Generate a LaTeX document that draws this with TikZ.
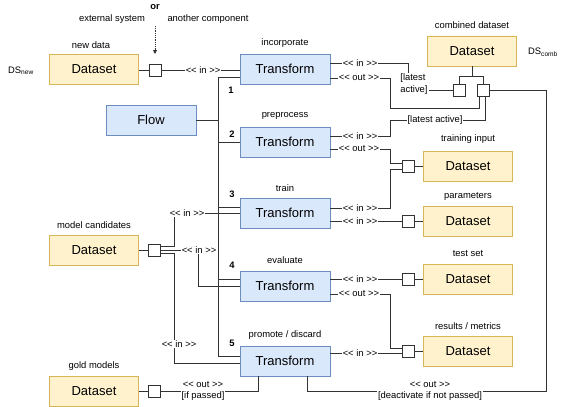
\documentclass[tikz,border=0pt]{standalone}
\usepackage{fontspec}
\setmainfont{Liberation Sans}
\usetikzlibrary{arrows.meta}
\definecolor{tfill}{HTML}{DAE8FC}
\definecolor{tstroke}{HTML}{6C8EBF}
\definecolor{dfill}{HTML}{FFF2CC}
\definecolor{dstroke}{HTML}{D6B656}
\definecolor{lc}{HTML}{333333}
\newcommand\LL{\mbox{<}\mbox{<}}
\newcommand\RR{\mbox{>}\mbox{>}}
\newcommand\inlab{\LL{} in \RR}
\newcommand\outlab{\LL{} out \RR}
\begin{document}
\begin{tikzpicture}[x=1pt,y=-1pt,
  every node/.style={font=\fontsize{9.4}{11.5}\selectfont, inner sep=0pt},
  tbox/.style={draw=tstroke, fill=tfill, minimum width=90pt, minimum height=30pt, font=\fontsize{13}{15}\selectfont, line width=0.8pt},
  dbox/.style={draw=dstroke, fill=dfill, minimum width=89pt, minimum height=30pt, font=\fontsize{13}{15}\selectfont, line width=0.8pt},
  port/.style={draw=lc, fill=white, minimum size=12pt, line width=0.8pt},
  conn/.style={draw=lc, line width=0.8pt},
  elab/.style={fill=white, inner sep=1pt, align=center},
  num/.style={font=\fontsize{9.4}{11.5}\selectfont\bfseries},
]
\useasboundingbox (0,0) rectangle (566,407);

% ---- left datasets
\node[dbox] (dsNew) at (94,69) {Dataset};
\node (lNew) at (91,45) {new data};
\node (dsNewT) at (21,71) {DS\textsubscript{new}};
\node[port] (pNew) at (155,70) {};
\node[num] (orT) at (155,7) {or};
\node (extT) at (112,19) {external system};
\node (anoT) at (208,19) {another component};
\coordinate (srcTop) at (155,26);
\coordinate (srcEnd) at (155,54);

\node[dbox] (dsMC) at (94,250) {Dataset};
\node (lMC) at (94,225) {model candidates};
\node[port] (pMC) at (154,250) {};

\node[dbox] (dsGold) at (94,391) {Dataset};
\node (lGold) at (94,366) {gold models};
\node[port] (pGold) at (154,391) {};

% ---- transforms
\node[tbox] (flow) at (151,120) {Flow};
\node[tbox] (tInc) at (285,69) {Transform};
\node (lInc) at (285,43) {incorporate};
\node[tbox] (tPre) at (285,142) {Transform};
\node (lPre) at (285,116) {preprocess};
\node[tbox] (tTrain) at (285,213) {Transform};
\node (lTrain) at (285,188) {train};
\node[tbox] (tEval) at (285,286) {Transform};
\node (lEval) at (285,260) {evaluate};
\node[tbox] (tProm) at (285,361) {Transform};
\node (lProm) at (285,335) {promote / discard};

\node[num] (n1) at (231,90) {1};
\node[num] (n2) at (232,134) {2};
\node[num] (n3) at (232,194) {3};
\node[num] (n4) at (232,265) {4};
\node[num] (n5) at (232,343) {5};

% ---- right datasets
\node[dbox] (dsComb) at (472,51) {Dataset};
\node (lComb) at (472,25) {combined dataset};
\node (dsCombT) at (543,52) {DS\textsubscript{comb}};
\node[port] (pA) at (459,90) {};
\node[port] (pB) at (483,90) {};

\node[dbox] (dsTI) at (468,166) {Dataset};
\node (lTI) at (468,139) {training input};
\node[port] (pTI) at (408,166) {};

\node[dbox] (dsPar) at (468,221) {Dataset};
\node (lPar) at (468,196) {parameters};
\node[port] (pPar) at (408,221) {};

\node[dbox] (dsTest) at (468,279) {Dataset};
\node (lTest) at (468,254) {test set};
\node[port] (pTest) at (408,279) {};

\node[dbox] (dsRes) at (468,351) {Dataset};
\node (lRes) at (468,326) {results / metrics};
\node[port] (pRes) at (408,351) {};

% ---- bus
\coordinate (b1) at (218,77);
\coordinate (bF) at (218,120);
\coordinate (b2) at (218,142);
\coordinate (b3) at (218,207);
\coordinate (b4) at (218,279);
\coordinate (b5) at (218,356);
\draw[conn] (tInc.west |- b1) -- (b1) -- (b5) -- (tProm.west |- b5);
\draw[conn] (flow.east) -- (bF);
\draw[conn] (b2) -- (tPre.west |- b2);
\draw[conn] (b3) -- (tTrain.west |- b3);
\draw[conn] (b4) -- (tEval.west |- b4);

% ---- new data
\draw[conn] (dsNew.east |- pNew) -- (pNew.west);
\draw[conn] (pNew.east) -- (tInc.west |- pNew);
\draw[conn, densely dotted, -{Triangle[length=4pt,width=4pt]}] (srcTop) -- (srcEnd);

% ---- combined dataset fork
\draw[conn] (dsComb.south) -- (472,76);
\draw[conn] (pA.north) -- (459,76) -- (483,76) -- (pB.north);

% ---- incorporate outputs
\draw[conn] (tInc.east |- 0,63) -- (408,63) -- (408,90) -- (pA.west);
\draw[conn] (tInc.east |- 0,78) -- (390,78) -- (390,108) -- (479,108) -- (479,96);
\draw[conn] (tPre.east |- 0,136) -- (390,136) -- (390,120) -- (485,120) -- (485,96);
\draw[conn] (pB.east) -- (546,90) -- (546,391) -- (307,391) -- (307,376);

% ---- preprocess / train
\draw[conn] (tPre.east |- 0,149) -- (390,149) -- (390,163) -- (pTI.west |- 0,163);
\draw[conn] (tTrain.east |- 0,208) -- (390,208) -- (390,169) -- (pTI.west |- 0,169);
\draw[conn] (pTI.east) -- (dsTI.west |- pTI);
\draw[conn] (tTrain.east |- pPar) -- (pPar.west);
\draw[conn] (pPar.east) -- (dsPar.west |- pPar);

% ---- evaluate / promote
\draw[conn] (tEval.east |- pTest) -- (pTest.west);
\draw[conn] (pTest.east) -- (dsTest.west |- pTest);
\draw[conn] (tEval.east |- 0,294) -- (390,294) -- (390,348) -- (pRes.west |- 0,348);
\draw[conn] (tProm.east |- 0,353) -- (pRes.west |- 0,353);
\draw[conn] (pRes.east) -- (dsRes.west |- pRes);
\draw[conn] (258,376) -- (258,391) -- (pGold.east);
\draw[conn] (dsGold.east |- pGold) -- (pGold.west);

% ---- model candidates
\draw[conn] (dsMC.east |- pMC) -- (pMC.west);
\draw[conn] (pMC.east |- 0,246) -- (174,246) -- (174,213) -- (tTrain.west |- 0,213);
\draw[conn] (pMC.east |- 0,250) -- (198,250) -- (198,286) -- (tEval.west |- 0,286);
\draw[conn] (pMC.east |- 0,253) -- (174,253) -- (174,363) -- (tProm.west |- 0,363);

% ---- edge labels
\node[elab] (eNew) at (203,70) {\inlab};
\node[elab] (eIncIn) at (360,63) {\inlab};
\node[elab] (eIncOut) at (359,78) {\outlab};
\node[elab, align=left] (eLatest1) at (414,84) {[latest\\active]};
\node[elab] (ePreIn) at (360,136) {\inlab};
\node[elab] (eLatest2) at (435,120) {[latest active]};
\node[elab] (ePreOut) at (359,149) {\outlab};
\node[elab] (eTrIn1) at (360,208) {\inlab};
\node[elab] (eTrIn2) at (360,221) {\inlab};
\node[elab] (eEvIn) at (360,279) {\inlab};
\node[elab] (eEvOut) at (359,294) {\outlab};
\node[elab] (ePrIn) at (360,353) {\inlab};
\node[elab] (eDeact) at (430,391) {\outlab\\{}[deactivate if not passed]};
\node[elab] (eGold) at (203,391) {\outlab\\{}[if passed]};
\node[elab] (eMC1) at (187,213) {\inlab};
\node[elab] (eMC2) at (199,250) {\inlab};
\node[elab] (eMC3) at (179,344) {\inlab};
\end{tikzpicture}
\end{document}
